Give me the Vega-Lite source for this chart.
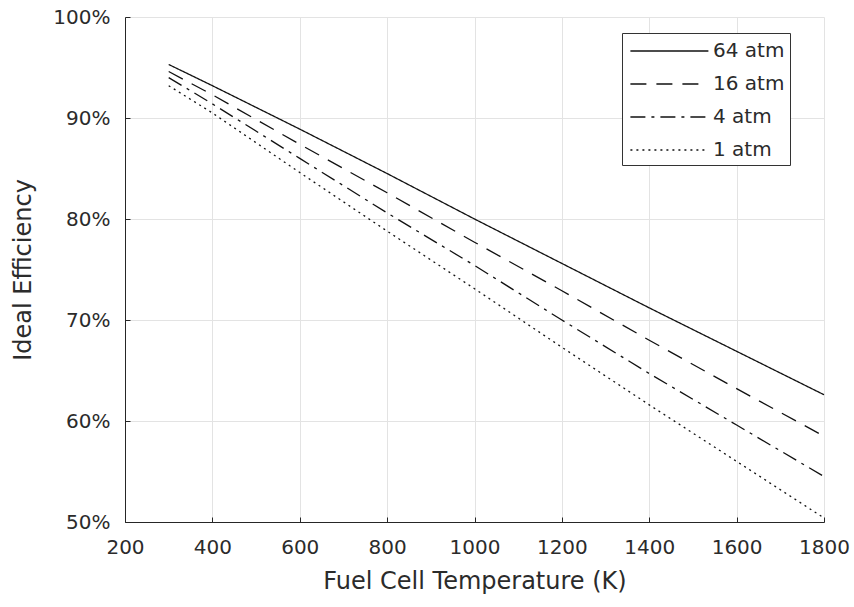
{
  "$schema": "https://vega.github.io/schema/vega-lite/v6.json",
  "width": 699,
  "height": 505,
  "autosize": {"type": "none"},
  "padding": {"left": 125, "top": 17, "right": 30, "bottom": 85},
  "background": "white",
  "config": {
    "font": "DejaVu Sans",
    "view": {"stroke": null},
    "axis": {
      "gridColor": "#e3e3e3",
      "gridWidth": 1,
      "domainColor": "#262626",
      "domainWidth": 1,
      "tickColor": "#262626",
      "tickSize": -5,
      "labelColor": "#2b2b2b",
      "labelFont": "DejaVu Sans",
      "labelFontSize": 20,
      "titleColor": "#2b2b2b",
      "titleFont": "DejaVu Sans",
      "titleFontSize": 24,
      "titleFontWeight": "normal",
      "labelFlush": false
    }
  },
  "data": {
    "values": [
      {"T": 300, "P": "64 atm", "eff": 0.953},
      {"T": 400, "P": "64 atm", "eff": 0.932},
      {"T": 600, "P": "64 atm", "eff": 0.889},
      {"T": 800, "P": "64 atm", "eff": 0.845},
      {"T": 1000, "P": "64 atm", "eff": 0.800},
      {"T": 1200, "P": "64 atm", "eff": 0.756},
      {"T": 1400, "P": "64 atm", "eff": 0.712},
      {"T": 1600, "P": "64 atm", "eff": 0.669},
      {"T": 1800, "P": "64 atm", "eff": 0.626},
      {"T": 300, "P": "16 atm", "eff": 0.946},
      {"T": 400, "P": "16 atm", "eff": 0.923},
      {"T": 600, "P": "16 atm", "eff": 0.874},
      {"T": 800, "P": "16 atm", "eff": 0.826},
      {"T": 1000, "P": "16 atm", "eff": 0.777},
      {"T": 1200, "P": "16 atm", "eff": 0.729},
      {"T": 1400, "P": "16 atm", "eff": 0.680},
      {"T": 1600, "P": "16 atm", "eff": 0.632},
      {"T": 1800, "P": "16 atm", "eff": 0.585},
      {"T": 300, "P": "4 atm", "eff": 0.940},
      {"T": 400, "P": "4 atm", "eff": 0.914},
      {"T": 600, "P": "4 atm", "eff": 0.860},
      {"T": 800, "P": "4 atm", "eff": 0.806},
      {"T": 1000, "P": "4 atm", "eff": 0.754},
      {"T": 1200, "P": "4 atm", "eff": 0.700},
      {"T": 1400, "P": "4 atm", "eff": 0.647},
      {"T": 1600, "P": "4 atm", "eff": 0.596},
      {"T": 1800, "P": "4 atm", "eff": 0.545},
      {"T": 300, "P": "1 atm", "eff": 0.932},
      {"T": 400, "P": "1 atm", "eff": 0.905},
      {"T": 600, "P": "1 atm", "eff": 0.846},
      {"T": 800, "P": "1 atm", "eff": 0.788},
      {"T": 1000, "P": "1 atm", "eff": 0.731},
      {"T": 1200, "P": "1 atm", "eff": 0.673},
      {"T": 1400, "P": "1 atm", "eff": 0.616},
      {"T": 1600, "P": "1 atm", "eff": 0.560},
      {"T": 1800, "P": "1 atm", "eff": 0.504}
    ]
  },
  "mark": {"type": "line", "color": "#111111", "strokeWidth": 1.3},
  "encoding": {
    "x": {
      "field": "T", "type": "quantitative",
      "scale": {"domain": [200, 1800], "nice": false},
      "axis": {"values": [200, 400, 600, 800, 1000, 1200, 1400, 1600, 1800], "format": "d", "title": "Fuel Cell Temperature (K)", "titlePadding": 12, "labelPadding": 20}
    },
    "y": {
      "field": "eff", "type": "quantitative",
      "scale": {"domain": [0.5, 1.0], "nice": false, "zero": false},
      "axis": {"values": [0.5, 0.6, 0.7, 0.8, 0.9, 1.0], "format": ".0%", "title": "Ideal Efficiency", "titlePadding": 17, "labelPadding": 20}
    },
    "strokeDash": {
      "field": "P", "type": "nominal",
      "scale": {
        "domain": ["64 atm", "16 atm", "4 atm", "1 atm"],
        "range": [[1, 0], [16, 10], [15, 6, 3, 6], [2, 4]]
      },
      "legend": {
        "title": null,
        "orient": "none",
        "legendX": 497,
        "legendY": 16,
        "symbolType": "M-0.8,0H5.7",
        "symbolSize": 576,
        "symbolStrokeColor": "#111111",
        "symbolStrokeWidth": 1.3,
        "labelFont": "DejaVu Sans",
        "labelFontSize": 20,
        "labelColor": "#2b2b2b",
        "labelOffset": 60,
        "rowPadding": 10,
        "padding": 5,
        "strokeColor": "#333333",
        "fillColor": "white"
      }
    }
  }
}
